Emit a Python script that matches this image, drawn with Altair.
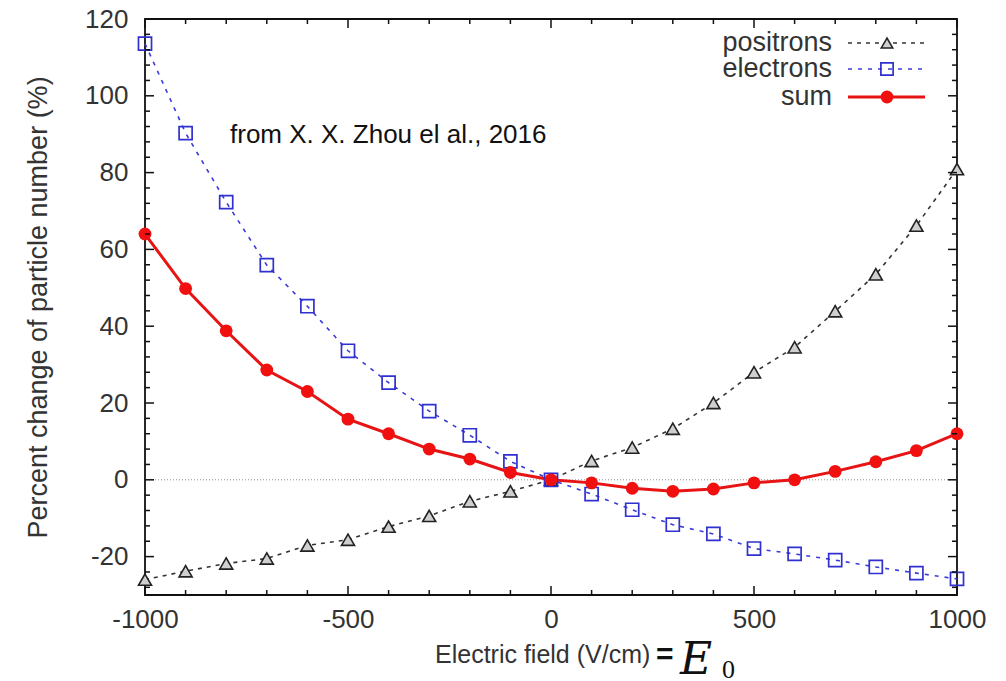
import altair as alt
import pandas as pd

# ---- data ----
field = list(range(-1000, 1001, 100))
positrons = [-26.0, -23.8, -21.8, -20.5, -17.1, -15.6, -12.2, -9.4, -5.6, -3.0, 0.0,
             4.9, 8.4, 13.3, 20.0, 28.0, 34.5, 43.9, 53.5, 66.2, 80.9]
electrons = [113.6, 90.3, 72.3, 55.9, 45.2, 33.6, 25.3, 17.9, 11.6, 4.8, 0.0,
             -3.7, -7.8, -11.7, -14.1, -17.9, -19.3, -20.9, -22.7, -24.3, -25.8]
total = [64.0, 49.8, 38.8, 28.6, 23.0, 15.8, 12.0, 8.0, 5.4, 1.9, 0.0,
         -0.8, -2.2, -3.0, -2.4, -0.8, 0.0, 2.2, 4.7, 7.6, 12.0]

x_label_values = [-1000, -500, 0, 500, 1000]
y_label_values = [-20, 0, 20, 40, 60, 80, 100, 120]
x_minor = [v for v in range(-1000, 1001, 100) if v % 500 != 0]
x_major = [-1000, -500, 0, 500, 1000]
y_minor = [v for v in range(-28, 121, 4) if v % 20 != 0]
y_major = [-20, 0, 20, 40, 60, 80, 100, 120]

legend_names = ["positrons", "electrons", "sum"]
note_text = "from X. X. Zhou el al., 2016"
y_title = "Percent change of particle number (%)"
x_title = "Electric field (V/cm)"

W, H = 812, 576
XD = [-1000, 1000]
YD = [-30, 120]

df = pd.DataFrame({"field": field, "positrons": positrons,
                   "electrons": electrons, "sum": total})

xs = alt.Scale(domain=XD, nice=False, zero=False)
ys = alt.Scale(domain=YD, nice=False, zero=False)

FONT = "Liberation Sans"
TXT = "#333333"

base = alt.Chart(df)

x_enc = alt.X("field:Q", scale=xs,
              axis=alt.Axis(values=x_label_values, ticks=False, domain=False, grid=False,
                            labelFontSize=26, labelPadding=11, labelColor=TXT, labelFlush=False,
                            labelFont=FONT, labelExpr="'' + datum.value", title=None))
y_enc_axis = alt.Y("positrons:Q", scale=ys,
                   axis=alt.Axis(values=y_label_values, ticks=False, domain=False, grid=False,
                                 labelFontSize=26, labelPadding=17, labelColor=TXT, labelFlush=False,
                                 labelFont=FONT, labelExpr="'' + datum.value",
                                 title=y_title,
                                 titleFontSize=27, titleFont=FONT, titleColor=TXT,
                                 titleFontWeight="normal", titlePadding=32))

zero = alt.Chart(pd.DataFrame({"y": [0]})).mark_rule(
    color="#777", strokeWidth=0.8, strokeDash=[1, 2]).encode(y=alt.Y("y:Q", scale=ys))

pos_line = base.mark_line(color="#333", strokeWidth=1.6, strokeDash=[4, 5]).encode(
    x=x_enc, y=y_enc_axis)
pos_pts = base.mark_point(shape="triangle-up", size=170, filled=True, fill="#cfcfcf",
                          stroke="#222", strokeWidth=1.6, opacity=1).encode(
    x=alt.X("field:Q", scale=xs), y=alt.Y("positrons:Q", scale=ys))

ele_line = base.mark_line(color="#3a3ad8", strokeWidth=1.6, strokeDash=[4, 6]).encode(
    x=alt.X("field:Q", scale=xs), y=alt.Y("electrons:Q", scale=ys))
ele_pts = base.mark_point(shape="square", size=170, filled=False, color="#3030d0",
                          strokeWidth=1.7, opacity=1).encode(
    x=alt.X("field:Q", scale=xs), y=alt.Y("electrons:Q", scale=ys))

sum_line = base.mark_line(color="#e61414", strokeWidth=3).encode(
    x=alt.X("field:Q", scale=xs), y=alt.Y("sum:Q", scale=ys))
sum_pts = base.mark_circle(size=165, color="#f01010", opacity=1).encode(
    x=alt.X("field:Q", scale=xs), y=alt.Y("sum:Q", scale=ys))

# inward ticks on all four sides
def xticks(vals, length):
    d = pd.DataFrame({"v": vals})
    b = alt.Chart(d).mark_rule(color="#111", strokeWidth=1.5).encode(
        x=alt.X("v:Q", scale=xs), y=alt.value(H), y2=alt.value(H - length))
    t = alt.Chart(d).mark_rule(color="#111", strokeWidth=1.5).encode(
        x=alt.X("v:Q", scale=xs), y=alt.value(0), y2=alt.value(length))
    return b + t

def yticks(vals, length):
    d = pd.DataFrame({"v": vals})
    l = alt.Chart(d).mark_rule(color="#111", strokeWidth=1.5).encode(
        y=alt.Y("v:Q", scale=ys), x=alt.value(0), x2=alt.value(length))
    r = alt.Chart(d).mark_rule(color="#111", strokeWidth=1.5).encode(
        y=alt.Y("v:Q", scale=ys), x=alt.value(W), x2=alt.value(W - length))
    return l + r

ticks = xticks(x_minor, 5) + xticks(x_major, 9) + yticks(y_minor, 5) + yticks(y_major, 9)

def label(text, x, y, **kw):
    return alt.Chart(pd.DataFrame({"t": [text]})).mark_text(**kw).encode(
        text="t:N", x=alt.value(x), y=alt.value(y))

# annotation
note = label(note_text, 85, 116, align="left", baseline="middle", fontSize=26,
             font=FONT, color="#111")

# x-axis title pieces
xt1 = label(x_title, 290, 644, align="left", baseline="alphabetic", fontSize=25,
            font=FONT, color=TXT)
xt2 = label("=", 511, 645, align="left", baseline="alphabetic", fontSize=30,
            font=FONT, fontWeight="bold", color="#111")
xt3 = label("E", 535, 655, align="left", baseline="alphabetic", fontSize=44,
            font="DejaVu Serif", fontStyle="italic", color="#111")
xt4 = label("0", 577, 659, align="left", baseline="alphabetic", fontSize=26,
            font="Liberation Serif", color="#111")

# legend (drawn inside the plot)
leg_y = [24, 50, 78]
leg_texts = [label(n, 687, yy, align="right", baseline="middle", fontSize=27,
                   font=FONT, color=TXT) for n, yy in zip(legend_names, leg_y)]

def leg_line(i, color, width, dash=None):
    kw = dict(color=color, strokeWidth=width)
    if dash:
        kw["strokeDash"] = dash
    return alt.Chart(pd.DataFrame({"n": [legend_names[i]]})).mark_rule(**kw).encode(
        x=alt.value(703), x2=alt.value(780), y=alt.value(leg_y[i]))

leg_l1 = leg_line(0, "#333", 1.6, [4, 5])
leg_l2 = leg_line(1, "#3a3ad8", 1.6, [4, 6])
leg_l3 = leg_line(2, "#e61414", 3)
leg_m1 = alt.Chart(pd.DataFrame({"n": [legend_names[0]]})).mark_point(
    shape="triangle-up", size=130, filled=True, fill="#cfcfcf", stroke="#222", strokeWidth=1.6, opacity=1).encode(
    x=alt.value(742), y=alt.value(leg_y[0]))
leg_m2 = alt.Chart(pd.DataFrame({"n": [legend_names[1]]})).mark_point(
    shape="square", size=150, filled=False, color="#3030d0", strokeWidth=1.7, opacity=1).encode(
    x=alt.value(742), y=alt.value(leg_y[1]))
leg_m3 = alt.Chart(pd.DataFrame({"n": [legend_names[2]]})).mark_circle(
    size=165, color="#f01010", opacity=1).encode(
    x=alt.value(742), y=alt.value(leg_y[2]))

chart = alt.layer(
    zero, pos_line, ele_line, sum_line, pos_pts, ele_pts, sum_pts, ticks,
    note, xt1, xt2, xt3, xt4, *leg_texts,
    leg_l1, leg_l2, leg_l3, leg_m1, leg_m2, leg_m3,
).properties(
    width=W, height=H,
    autosize=alt.AutoSizeParams(type="none"),
    padding={"left": 145, "top": 19, "right": 49, "bottom": 86},
    background="white",
).configure_view(stroke="#111", strokeWidth=1.8)

chart.save("out.html", embed_options={"renderer": "svg", "actions": False})
